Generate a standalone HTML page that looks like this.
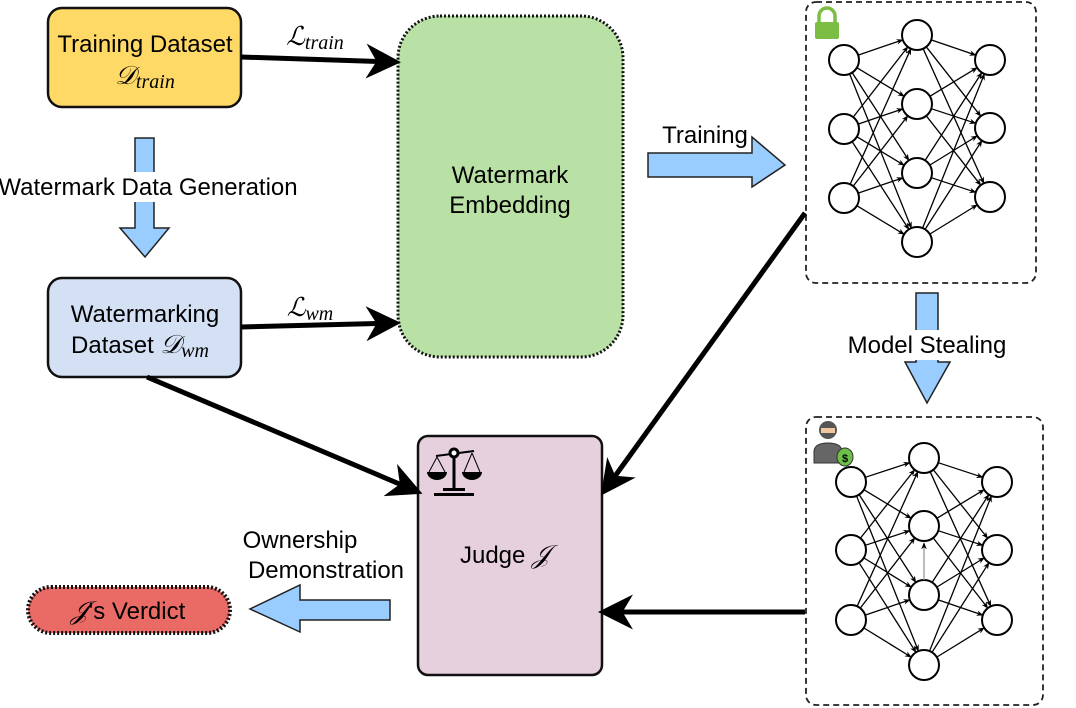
<!DOCTYPE html>
<html><head><meta charset="utf-8"><style>
html,body{margin:0;padding:0;background:#fff;}
svg{display:block;font-family:"Liberation Sans",sans-serif;}
.m{font-family:"Liberation Serif",serif;font-style:italic;}
</style></head><body>
<svg id="s" width="1076" height="708" viewBox="0 0 1076 708" xmlns="http://www.w3.org/2000/svg">
<defs>
<marker id="a" viewBox="0 0 10 10" refX="9" refY="5" markerWidth="7" markerHeight="7" orient="auto" markerUnits="userSpaceOnUse"><path d="M0,1 L10,5 L0,9 L3,5 Z" fill="#000"/></marker>
<marker id="A" viewBox="0 0 10 10" refX="8" refY="5" markerWidth="7" markerHeight="7" orient="auto"><path d="M0,0 L10,5 L0,10 L3,5 Z" fill="#000"/></marker>
</defs>
<rect x="48" y="8" width="193" height="99" rx="14" fill="#ffd966" stroke="#111" stroke-width="2.5"/>
<text x="145" y="52" font-size="24" text-anchor="middle">Training Dataset</text>
<text x="145" y="84" font-size="26" text-anchor="middle" class="m">𝒟<tspan font-size="20" dy="4">train</tspan></text>
<rect x="48" y="278" width="193" height="99" rx="14" fill="#d4e1f5" stroke="#111" stroke-width="2.5"/>
<text x="145" y="322" font-size="24" text-anchor="middle">Watermarking</text>
<text x="140" y="353" font-size="24" text-anchor="middle">Dataset <tspan class="m" font-size="26">𝒟</tspan><tspan class="m" font-size="20" dy="4">wm</tspan></text>
<path d="M135,138 H154 V228 H169 L145,257 L120,228 H135 Z" fill="#99ccff" stroke="#222" stroke-width="1.5"/>
<rect x="0" y="172" width="300" height="30" fill="#fff"/>
<text x="148" y="195" font-size="24" text-anchor="middle">Watermark Data Generation</text>
<rect x="398" y="16" width="225" height="341" rx="42" fill="#b9e0a5" stroke="#111" stroke-width="3" stroke-dasharray="2,2"/>
<text x="510" y="183" font-size="24" text-anchor="middle">Watermark</text>
<text x="510" y="213" font-size="24" text-anchor="middle">Embedding</text>
<line x1="241" y1="57" x2="394" y2="62" stroke="#000" stroke-width="5" marker-end="url(#A)"/>
<text x="315" y="45" font-size="26" text-anchor="middle" class="m">ℒ<tspan font-size="20" dy="4">train</tspan></text>
<line x1="241" y1="327" x2="394" y2="323" stroke="#000" stroke-width="5" marker-end="url(#A)"/>
<text x="310" y="316" font-size="26" text-anchor="middle" class="m">ℒ<tspan font-size="20" dy="4">wm</tspan></text>
<path d="M648,153 H752 V137 L785,165 L752,187 V177 H648 Z" fill="#99ccff" stroke="#222" stroke-width="1.5"/>
<text x="705" y="143" font-size="24" text-anchor="middle">Training</text>
<rect x="806" y="2" width="230" height="281" rx="10" fill="none" stroke="#222" stroke-width="1.8" stroke-dasharray="6,4"/>
<rect x="806" y="417" width="237" height="288" rx="10" fill="none" stroke="#222" stroke-width="1.8" stroke-dasharray="6,4"/>
<g id="nn"></g>
<path d="M819,22 V16 a8,8 0 0 1 16,0 V22" fill="none" stroke="#7cbd43" stroke-width="3.5"/>
<rect x="815" y="22" width="24" height="17" rx="2" fill="#7cbd43"/>
<circle cx="828" cy="430" r="9" fill="#555"/>
<rect x="821" y="428" width="14" height="5" fill="#f0c8a0"/>
<path d="M814,463 V452 q0,-9 14,-9 q14,0 14,9 V463 Z" fill="#666" stroke="#333"/>
<ellipse cx="845" cy="457" rx="8" ry="9" fill="#6cc04a" stroke="#333"/>
<text x="845" y="462" font-size="11" text-anchor="middle" font-weight="bold">$</text>
<path d="M916,293 H938 V362 H950 L927,403 L905,362 H916 Z" fill="#99ccff" stroke="#222" stroke-width="1.5"/>
<rect x="838" y="330" width="178" height="30" fill="#fff"/>
<text x="927" y="353" font-size="24" text-anchor="middle">Model Stealing</text>
<rect x="418" y="436" width="184" height="239" rx="10" fill="#e6d0de" stroke="#111" stroke-width="2.5"/>
<text x="505" y="563" font-size="24" text-anchor="middle">Judge <tspan class="m" font-size="26">𝒥</tspan></text>
<g fill="#000" stroke="#000">
<line x1="436" y1="456" x2="474" y2="451" stroke-width="2"/>
<circle cx="454" cy="453" r="4" fill="#fff" stroke-width="3"/>
<line x1="454" y1="457" x2="454" y2="490" stroke-width="3"/>
<path d="M427,472 h20 a10,8 0 0 1 -20,0 Z M462,472 h20 a10,8 0 0 1 -20,0 Z" stroke="none"/>
<line x1="437" y1="457" x2="429" y2="472" stroke-width="1"/><line x1="437" y1="457" x2="445" y2="472" stroke-width="1"/>
<line x1="472" y1="453" x2="464" y2="472" stroke-width="1"/><line x1="472" y1="453" x2="480" y2="472" stroke-width="1"/>
<rect x="443" y="488" width="22" height="3" stroke="none"/><rect x="434" y="493" width="40" height="3" stroke="none"/>
</g>
<line x1="147" y1="377" x2="416" y2="491" stroke="#000" stroke-width="5" marker-end="url(#A)"/>
<line x1="805" y1="213" x2="605" y2="490" stroke="#000" stroke-width="5" marker-end="url(#A)"/>
<line x1="805" y1="612" x2="605" y2="612" stroke="#000" stroke-width="5" marker-end="url(#A)"/>
<path d="M390,600 H300 V585 L250,609 L300,632 V620 H390 Z" fill="#99ccff" stroke="#222" stroke-width="1.5"/>
<text x="300" y="548" font-size="24" text-anchor="middle">Ownership</text>
<text x="326" y="578" font-size="24" text-anchor="middle">Demonstration</text>
<rect x="28" y="587" width="202" height="46" rx="23" fill="#ea6b66" stroke="#111" stroke-width="4" stroke-dasharray="2,2"/>
<text x="128" y="619" font-size="24" text-anchor="middle"><tspan class="m" font-size="26">𝒥</tspan>'s Verdict</text>
</svg>
<script>
var g=document.getElementById('nn'),r=15,h='';
function net(ix,hx,ox,iy,hy,oy){
 function L(x1,y1,x2,y2){var dx=x2-x1,dy=y2-y1,d=Math.hypot(dx,dy);
  h+='<line x1="'+(x1+dx/d*r)+'" y1="'+(y1+dy/d*r)+'" x2="'+(x2-dx/d*r)+'" y2="'+(y2-dy/d*r)+'" stroke="#000" stroke-width="1.3" marker-end="url(#a)"/>';}
 iy.forEach(function(a){hy.forEach(function(b){L(ix,a,hx,b)})});
 hy.forEach(function(a){oy.forEach(function(b){L(hx,a,ox,b)})});
 [[ix,iy],[hx,hy],[ox,oy]].forEach(function(p){p[1].forEach(function(y){h+='<circle cx="'+p[0]+'" cy="'+y+'" r="'+r+'" fill="#fff" stroke="#000" stroke-width="2"/>'})});
}
net(844,917,990,[60,129,198],[35,104,173,242],[60,128,197]);
net(851,924,997,[482,550,620],[458,526,595,665],[482,550,620]);
h+='<line x1="924" y1="580" x2="924" y2="543" stroke="#999" stroke-width="1.3" marker-end="url(#a)"/>';
g.innerHTML=h;
</script>
</body></html>
